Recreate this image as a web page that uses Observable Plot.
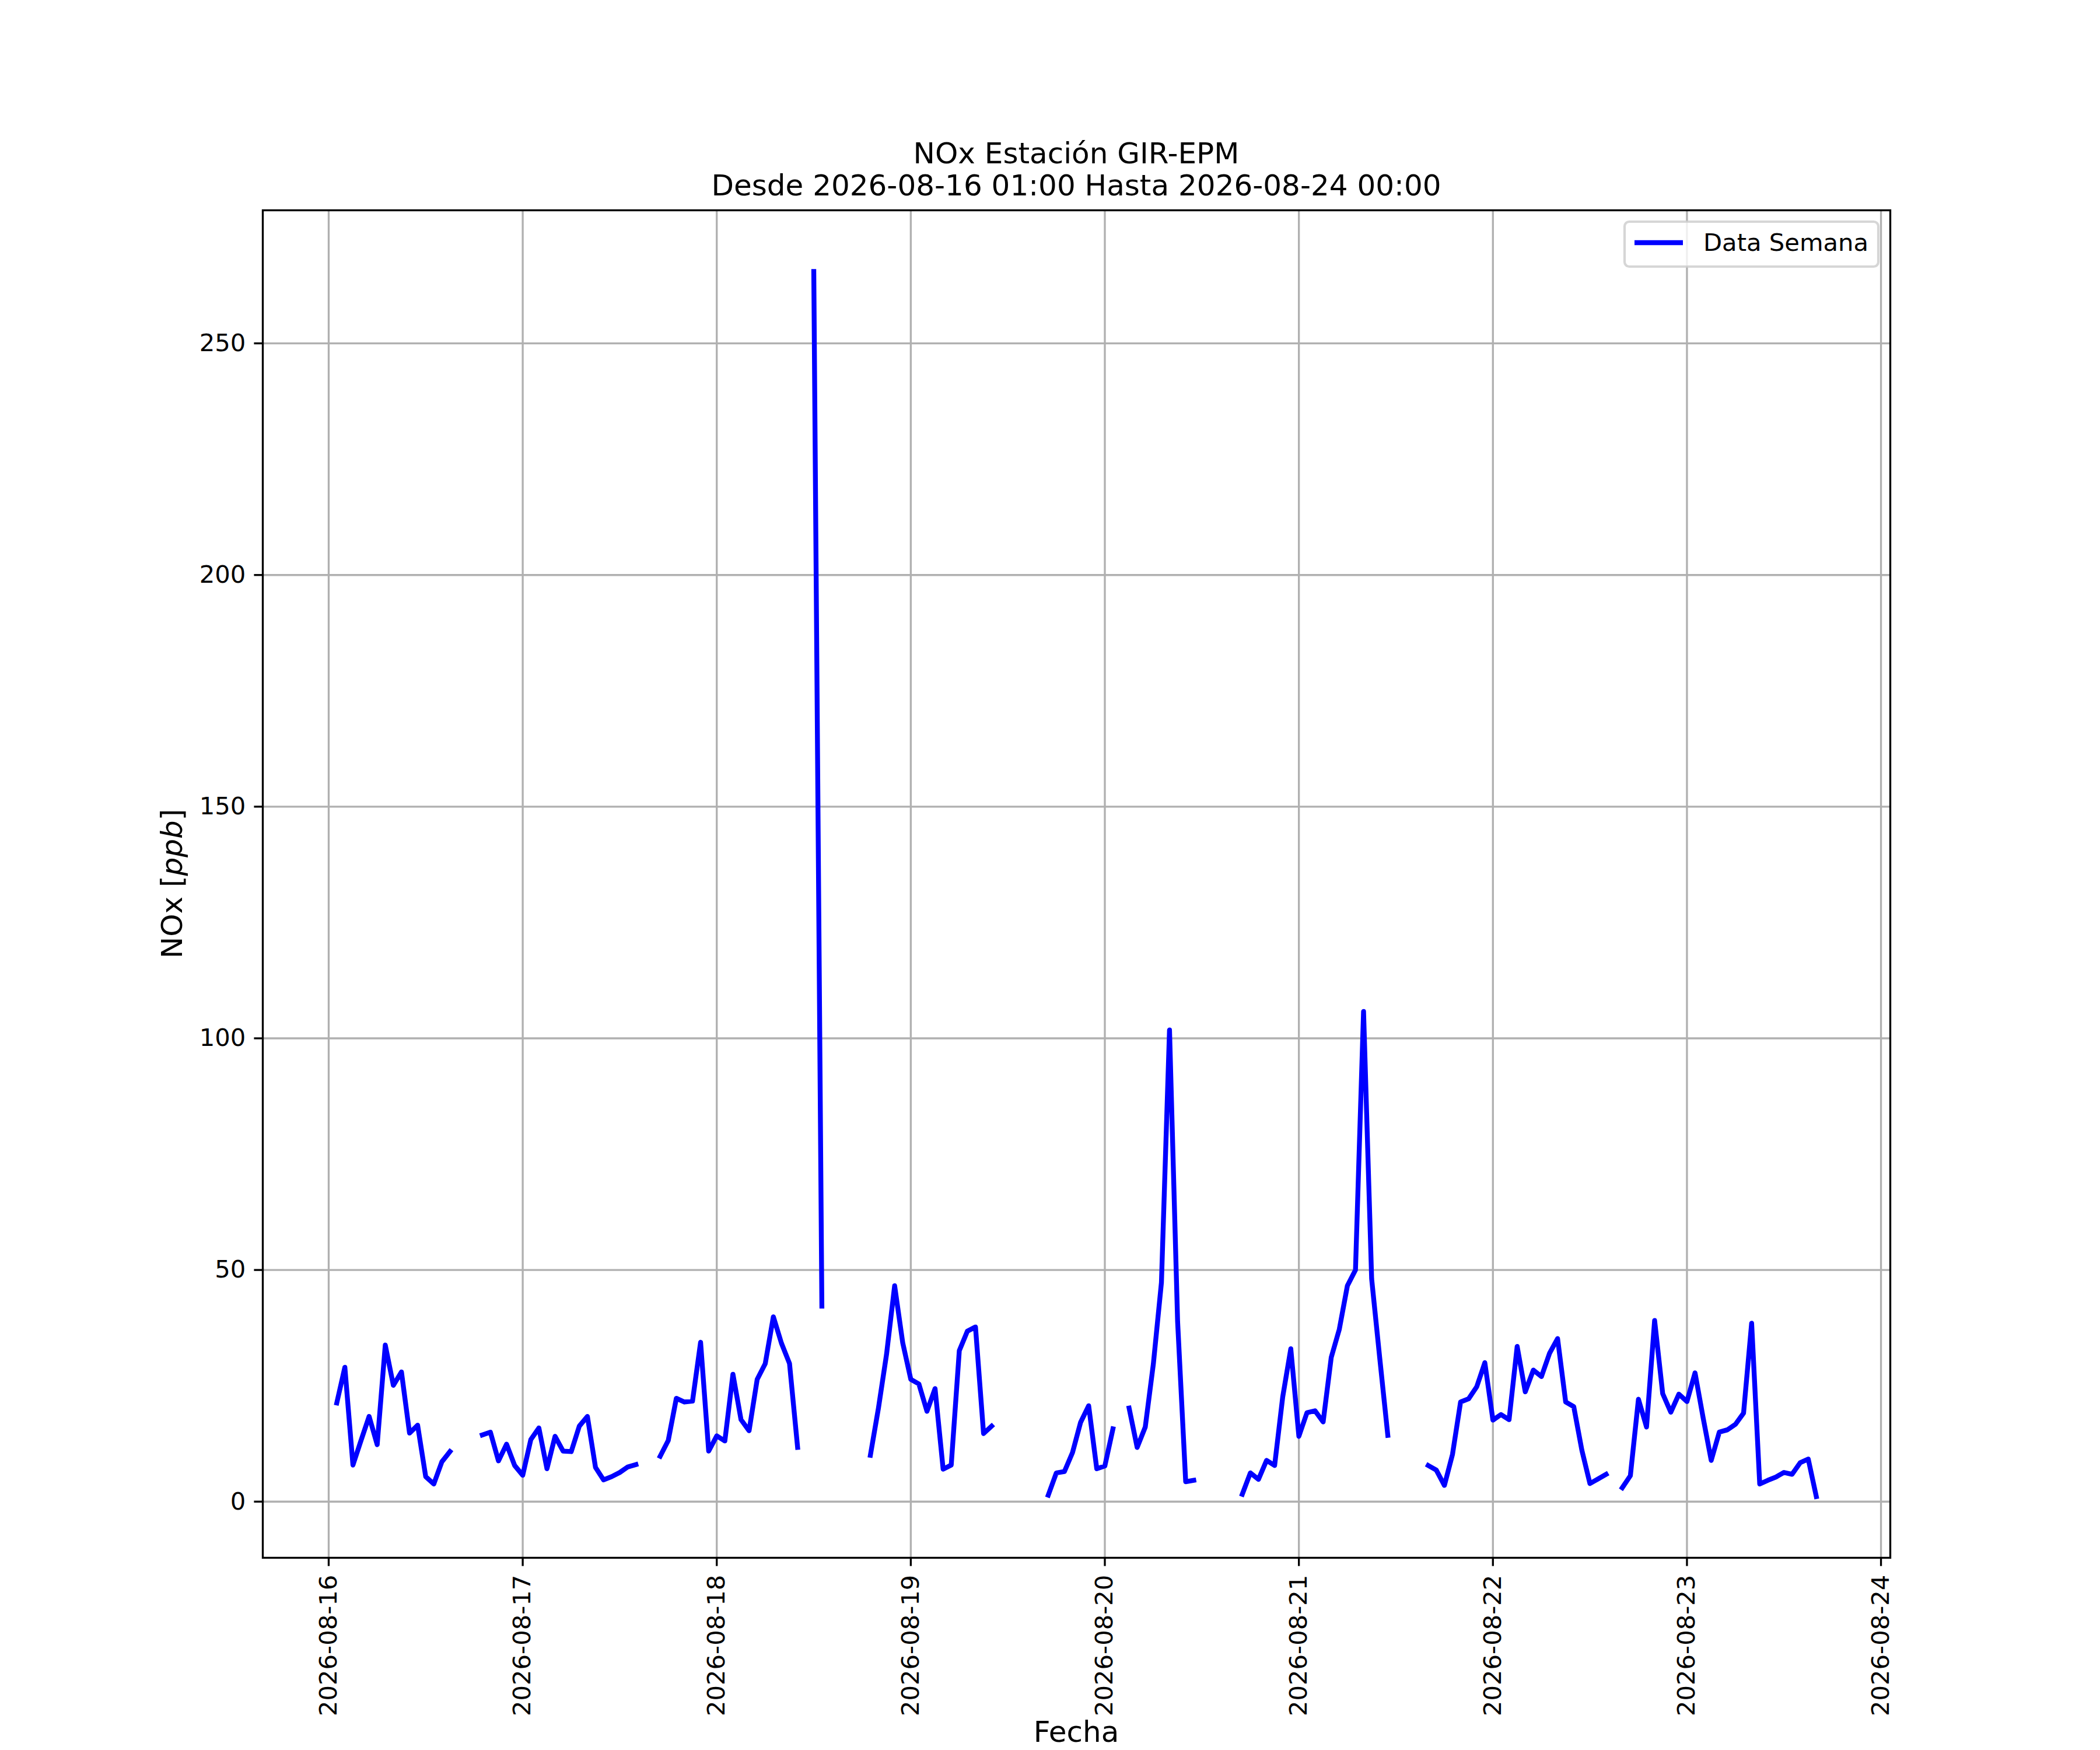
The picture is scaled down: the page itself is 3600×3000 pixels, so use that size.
<!DOCTYPE html>
<html>
<head>
<meta charset="utf-8">
<script src="https://cdn.jsdelivr.net/npm/d3@7"></script>
<script src="https://cdn.jsdelivr.net/npm/@observablehq/plot@0.6"></script>
<style>
  html, body { margin: 0; padding: 0; background: white; }
</style>
</head>
<body>
<div id="chart"></div>
<script>
// Hourly NOx values (ppb), hours 00..23 of each day; null = missing
const day16 = [null, 21.3, 29.0, 7.9, 13.2, 18.4, 12.3, 33.8, 25.1, 28.0, 14.8, 16.5, 5.4, 3.8, 8.6, 10.8, null, null, null, 14.4, 15.0, 8.8, 12.4, 7.8];
const day17 = [5.7, 13.4, 15.9, 7.1, 14.1, 10.9, 10.8, 16.3, 18.4, 7.4, 4.7, 5.4, 6.3, 7.5, 8.0, null, null, 9.8, 13.2, 22.3, 21.5, 21.7, 34.4, 10.9];
const day18 = [14.2, 13.1, 27.5, 17.7, 15.3, 26.4, 29.8, 39.9, 34.2, 29.8, 11.7, null, 265.5, 42.2, null, null, null, null, null, 10.0, 20.2, 31.8, 46.6, 34.3];
const day19 = [26.4, 25.4, 19.5, 24.4, 7.0, 7.9, 32.6, 36.8, 37.7, 14.7, 16.3, null, null, null, null, null, null, 1.4, 6.2, 6.5, 10.6, 17.1, 20.7, 7.1];
const day20 = [7.7, 15.7, null, 20.2, 11.7, 16.1, 29.7, 47.3, 101.8, 38.9, 4.3, 4.6, null, null, null, null, null, 1.6, 6.2, 4.8, 8.9, 7.8, 22.6, 33.0];
const day21 = [14.1, 19.2, 19.6, 17.2, 31.1, 37.2, 46.6, 50.0, 105.8, 48.1, 31.0, 14.3, null, null, null, null, 7.8, 6.8, 3.5, 10.2, 21.5, 22.2, 24.8, 30.0];
const day22 = [17.6, 18.8, 17.7, 33.5, 23.7, 28.4, 27.0, 32.0, 35.2, 21.5, 20.5, 11.1, 3.9, 4.9, 5.9, null, 3.0, 5.6, 22.1, 16.1, 39.1, 23.3, 19.3, 23.2];
const day23 = [21.6, 27.8, 18.1, 8.9, 15.0, 15.5, 16.7, 19.1, 38.5, 3.8, 4.6, 5.3, 6.3, 5.9, 8.4, 9.2, 1.1];

const dayStarts = ["2026-08-16", "2026-08-17", "2026-08-18", "2026-08-19", "2026-08-20", "2026-08-21", "2026-08-22", "2026-08-23"];
const xTickLabels = ["2026-08-16", "2026-08-17", "2026-08-18", "2026-08-19", "2026-08-20", "2026-08-21", "2026-08-22", "2026-08-23", "2026-08-24"];
const yTicks = [0, 50, 100, 150, 200, 250];

const titleLines = ["NOx Estación GIR-EPM", "Desde 2026-08-16 01:00 Hasta 2026-08-24 00:00"];
const legendLabel = "Data Semana";

const series = [day16, day17, day18, day19, day20, day21, day22, day23];
const rows = series.flatMap((vals, i) => {
  const base = new Date(dayStarts[i] + "T00:00:00Z").getTime();
  return vals.map((v, h) => ({date: new Date(base + h * 3600e3), value: v}));
});
const xTicks = xTickLabels.map(s => new Date(s + "T00:00:00Z"));

// matplotlib-like autoscale with 5% margins
const defined = rows.filter(d => d.value != null);
const xMin = d3.min(defined, d => d.date.getTime());
const xMax = d3.max(defined, d => d.date.getTime());
const yMin = d3.min(defined, d => d.value);
const yMax = d3.max(defined, d => d.value);
const xPad = (xMax - xMin) * 0.05;
const yPad = (yMax - yMin) * 0.05;

const W = 3600, H = 3000;
const mL = 450, mR = 360, mT = 360, mB = 330;
const FONT = "DejaVu Sans, Liberation Sans, sans-serif";

const svg = Plot.plot({
  width: W,
  height: H,
  marginLeft: mL,
  marginRight: mR,
  marginTop: mT,
  marginBottom: mB,
  style: {background: "white", color: "black", fontFamily: FONT},
  x: {type: "utc", domain: [new Date(xMin - xPad), new Date(xMax + xPad)]},
  y: {domain: [yMin - yPad, yMax + yPad]},
  marks: [
    Plot.gridX(xTicks, {stroke: "#b0b0b0", strokeOpacity: 1, strokeWidth: 3.33}),
    Plot.gridY(yTicks, {stroke: "#b0b0b0", strokeOpacity: 1, strokeWidth: 3.33}),
    Plot.line(rows, {x: "date", y: "value", stroke: "#0000ff", strokeWidth: 8.33, strokeLinecap: "square", strokeLinejoin: "round"}),
    Plot.frame({stroke: "black", strokeWidth: 3.33}),
    Plot.axisX(xTicks, {
      tickFormat: d3.utcFormat("%Y-%m-%d"),
      tickRotate: -90,
      fontSize: 41.7,
      tickSize: 14.6,
      tickPadding: 14.6,
      strokeWidth: 3.33,
      label: null
    }),
    Plot.axisY(yTicks, {
      fontSize: 41.7,
      tickSize: 14.6,
      tickPadding: 14.6,
      strokeWidth: 3.33,
      label: null
    })
  ]
});

const s = d3.select(svg);
const cx = mL + (W - mL - mR) / 2;

// Title
s.append("text").attr("x", cx).attr("y", 280).attr("text-anchor", "middle")
  .attr("font-family", FONT).attr("font-size", 50).attr("fill", "black").text(titleLines[0]);
s.append("text").attr("x", cx).attr("y", 335).attr("text-anchor", "middle")
  .attr("font-family", FONT).attr("font-size", 50).attr("fill", "black").text(titleLines[1]);

// X label
s.append("text").attr("x", cx).attr("y", 2986).attr("text-anchor", "middle")
  .attr("font-family", FONT).attr("font-size", 50).attr("fill", "black").text("Fecha");

// Y label with italic unit
const yl = s.append("text").attr("transform", `translate(312,${mT + (H - mT - mB) / 2}) rotate(-90)`)
  .attr("text-anchor", "middle").attr("font-family", FONT).attr("font-size", 50).attr("fill", "black");
yl.append("tspan").text("NOx [");
yl.append("tspan").attr("font-style", "italic").text("ppb");
yl.append("tspan").text("]");

// Legend (upper right)
const lg = s.append("g");
lg.append("rect").attr("x", 2785).attr("y", 380).attr("width", 435).attr("height", 77)
  .attr("rx", 8).attr("ry", 8).attr("fill", "white").attr("fill-opacity", 0.8)
  .attr("stroke", "#cccccc").attr("stroke-opacity", 0.8).attr("stroke-width", 4.17);
lg.append("line").attr("x1", 2802).attr("x2", 2885).attr("y1", 416).attr("y2", 416)
  .attr("stroke", "#0000ff").attr("stroke-width", 8.33).attr("stroke-linecap", "butt");
lg.append("text").attr("x", 2920).attr("y", 430).attr("text-anchor", "start")
  .attr("font-family", FONT).attr("font-size", 41.7)
  .attr("fill", "black").text(legendLabel);

document.getElementById("chart").appendChild(svg);
</script>
</body>
</html>
